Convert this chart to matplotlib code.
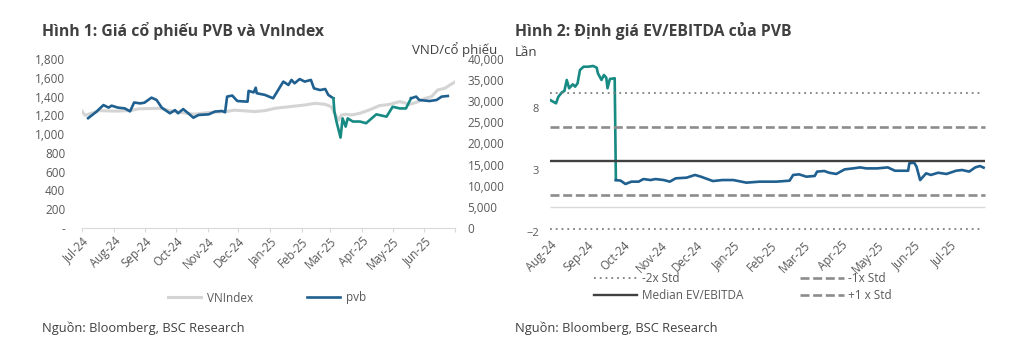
import numpy as np
import pandas as pd
import matplotlib
matplotlib.use("Agg")
import matplotlib.pyplot as plt
import matplotlib.dates as mdates
from matplotlib.ticker import FuncFormatter

plt.rcParams['font.family'] = ['Open Sans', 'DejaVu Sans']

# ---- Hinh 1: gia co phieu PVB va VnIndex ----
vni_dates = ["2024-07-01", "2024-07-04", "2024-07-18", "2024-08-02", "2024-08-17", "2024-08-26",
             "2024-09-05", "2024-09-15", "2024-09-25", "2024-10-09", "2024-10-19", "2024-10-29",
             "2024-11-08", "2024-11-18", "2024-11-27", "2024-12-07", "2024-12-17", "2024-12-27",
             "2025-01-06", "2025-01-20", "2025-02-04", "2025-02-14", "2025-02-24", "2025-03-02",
             "2025-03-06", "2025-03-09", "2025-03-12", "2025-03-16", "2025-03-22", "2025-03-30",
             "2025-04-08", "2025-04-18", "2025-04-28", "2025-05-08", "2025-05-18", "2025-05-26",
             "2025-06-02", "2025-06-08", "2025-06-14", "2025-06-21", "2025-06-26", "2025-07-01"]
vni_values = [1245, 1200, 1250, 1245, 1250, 1270,
              1272, 1275, 1250, 1225, 1212, 1225,
              1235, 1238, 1255, 1248, 1240, 1250,
              1275, 1292, 1310, 1328, 1317, 1292,
              1204, 1150, 1204, 1211, 1204, 1222,
              1257, 1303, 1317, 1346, 1317, 1346,
              1381, 1399, 1470, 1488, 1523, 1555]

pvb_dates = ["2024-07-07", "2024-07-15", "2024-07-22", "2024-07-27", "2024-07-30",
             "2024-08-05", "2024-08-12", "2024-08-17", "2024-08-21", "2024-08-27", "2024-08-31",
             "2024-09-07", "2024-09-12", "2024-09-17", "2024-09-25", "2024-09-30",
             "2024-10-03", "2024-10-08", "2024-10-13", "2024-10-18", "2024-10-23",
             "2024-11-02", "2024-11-08", "2024-11-15", "2024-11-18", "2024-11-20", "2024-11-25", "2024-11-30",
             "2024-12-10", "2024-12-11", "2024-12-16", "2024-12-18", "2024-12-19", "2024-12-27",
             "2025-01-04", "2025-01-14", "2025-01-19", "2025-01-22", "2025-01-25", "2025-01-30",
             "2025-02-04", "2025-02-10", "2025-02-13", "2025-02-19", "2025-02-24", "2025-02-27",
             "2025-03-04", "2025-03-05", "2025-03-07", "2025-03-11", "2025-03-13", "2025-03-16",
             "2025-03-18", "2025-03-23", "2025-03-30",
             "2025-04-05", "2025-04-15", "2025-04-25",
             "2025-05-01", "2025-05-08", "2025-05-14", "2025-05-19", "2025-05-24", "2025-05-27",
             "2025-06-06", "2025-06-13", "2025-06-18", "2025-06-24"]
pvb_values = [26000, 27500, 29100, 28500, 28950,
              28500, 28300, 27600, 29700, 29500, 29650,
              30850, 30300, 28500, 27150, 27900,
              27150, 28150, 27150, 26100, 26750,
              26900, 27550, 27700, 27400, 31100, 31350, 30050,
              29900, 32450, 32100, 33200, 31900, 31500,
              30700, 34650, 33850, 35050, 34250, 35250,
              34650, 35050, 33050, 32650, 32900, 31500,
              30700, 27550, 25200, 21400, 25950, 24000,
              25950, 25200, 25200,
              24800, 26900, 26350,
              28700, 28300, 28300, 30700, 31100, 30300,
              30050, 30300, 31100, 31250]
pvb_teal_from, pvb_teal_to = "2025-03-04", "2025-05-19"

# ---- Hinh 2: EV/EBITDA ----
ev_dates = ["2024-08-01", "2024-08-06", "2024-08-08", "2024-08-11", "2024-08-13", "2024-08-15",
            "2024-08-17", "2024-08-20", "2024-08-22", "2024-08-24", "2024-08-26", "2024-08-29",
            "2024-09-02", "2024-09-06", "2024-09-09", "2024-09-10", "2024-09-13", "2024-09-15",
            "2024-09-17", "2024-09-18", "2024-09-20", "2024-09-24", "2024-09-25", "2024-09-29",
            "2024-10-03", "2024-10-08", "2024-10-14", "2024-10-18", "2024-10-24", "2024-10-28",
            "2024-11-04", "2024-11-09", "2024-11-14", "2024-11-23", "2024-11-30",
            "2024-12-05", "2024-12-15", "2024-12-23",
            "2025-01-01", "2025-01-12", "2025-01-23",
            "2025-02-06", "2025-02-17", "2025-02-20", "2025-02-25",
            "2025-03-03", "2025-03-10", "2025-03-12", "2025-03-18", "2025-03-22", "2025-03-28",
            "2025-04-04", "2025-04-11", "2025-04-17", "2025-04-22",
            "2025-05-01", "2025-05-10", "2025-05-16", "2025-05-27", "2025-05-28",
            "2025-06-01", "2025-06-03", "2025-06-06", "2025-06-11", "2025-06-15", "2025-06-21", "2025-06-28",
            "2025-07-06", "2025-07-11", "2025-07-17", "2025-07-22", "2025-07-26", "2025-07-29"]
ev_values = [8.65, 8.38, 8.91, 9.27, 9.37, 10.26, 9.59, 9.91, 9.72, 9.99, 11.06, 11.33,
             11.33, 11.39, 11.25, 10.80, 10.26, 10.66, 10.44, 9.59, 10.34, 10.40, 2.19, 2.14,
             1.87, 2.06, 2.06, 2.27, 2.19, 2.27,
             2.19, 2.06, 2.33, 2.38, 2.60,
             2.46, 2.11, 2.19,
             2.19, 1.98, 2.06,
             2.06, 2.14, 2.60, 2.65,
             2.46, 2.52, 2.87, 2.92, 2.78, 2.68,
             3.05, 3.13, 3.21, 3.13,
             3.13, 3.21, 2.94, 2.94, 3.54,
             3.59, 3.27, 2.19, 2.73, 2.60, 2.78, 2.68,
             2.94, 3.00, 2.87, 3.21, 3.32, 3.19]
ev_teal_to = "2024-09-25"
ev_median = 3.73
ev_std = 2.75

BLUE = '#1f6090'
TEAL = '#178a84'
GRAY_TXT = '#595959'
DARK = '#404040'

vni = pd.Series(vni_values, index=pd.to_datetime(vni_dates))
pvb = pd.Series(pvb_values, index=pd.to_datetime(pvb_dates))
ev = pd.Series(ev_values, index=pd.to_datetime(ev_dates))

fig = plt.figure(figsize=(10.21, 3.54), dpi=100)

# ------------- left chart -------------
ax1 = fig.add_axes([82 / 1021, 1 - 228 / 354, 373 / 1021, 169 / 354])
ax1.plot(vni.index, vni.values, color='#d4d4d4', lw=2.2, solid_joinstyle='round')
ax1.set_ylim(0, 1800)
ax1.set_yticks(np.arange(0, 1801, 200))
ax1.yaxis.set_major_formatter(FuncFormatter(lambda v, p: '-' if v == 0 else f'{int(v):,}'))
ax1.set_xlim(pd.Timestamp("2024-07-01"), pd.Timestamp("2025-07-01"))
ax1.xaxis.set_major_locator(mdates.MonthLocator())
ax1.xaxis.set_major_formatter(mdates.DateFormatter('%b-%y'))
for s in ['top', 'right', 'left']:
    ax1.spines[s].set_visible(False)
ax1.spines['bottom'].set_color('#d9d9d9')
ax1.tick_params(axis='y', length=0, pad=12, labelsize=8.5, labelcolor=GRAY_TXT)
ax1.tick_params(axis='x', length=3, color='#d9d9d9', pad=2, labelsize=8.3, labelcolor=GRAY_TXT)
for lab in ax1.get_xticklabels():
    lab.set_rotation(45)
    lab.set_ha('right')
    lab.set_rotation_mode('anchor')
labels1 = ax1.get_xticklabels()
labels1[-1].set_visible(False)

ax1r = ax1.twinx()
blue_part1 = pvb[:pvb_teal_from]
teal_part = pvb[pvb_teal_from:pvb_teal_to]
blue_part2 = pvb[pvb_teal_to:]
ax1r.plot(blue_part1.index, blue_part1.values, color=BLUE, lw=1.9)
ax1r.plot(teal_part.index, teal_part.values, color=TEAL, lw=1.9)
ax1r.plot(blue_part2.index, blue_part2.values, color=BLUE, lw=1.9)
ax1r.set_ylim(0, 40000)
ax1r.set_yticks(np.arange(0, 40001, 5000))
ax1r.yaxis.set_major_formatter(FuncFormatter(lambda v, p: f'{int(v):,}'))
for s in ['top', 'right', 'left', 'bottom']:
    ax1r.spines[s].set_visible(False)
ax1r.tick_params(axis='y', length=0, pad=9, labelsize=8.5, labelcolor=GRAY_TXT)

fig.text(42 / 1021, 1 - 31 / 354, 'Hình 1: Giá cổ phiếu PVB và VnIndex', fontsize=11.3,
         fontweight='bold', color=DARK, va='center')
fig.text(497 / 1021, 1 - 50 / 354, 'VND/cổ phiếu', fontsize=9.5, color=DARK, ha='right', va='center')

h1, = ax1.plot([], [], color='#d4d4d4', lw=2.2, label='VNIndex')
h2, = ax1.plot([], [], color=BLUE, lw=1.9, label='pvb')
fig.legend(handles=[h1, h2], loc='center', bbox_to_anchor=(267 / 1021, 1 - 298 / 354), ncol=2,
           frameon=False, fontsize=8.5, handlelength=2.8, handletextpad=0.5, columnspacing=4.5,
           labelcolor=GRAY_TXT)
fig.text(42 / 1021, 1 - 328 / 354, 'Nguồn: Bloomberg, BSC Research', fontsize=9.3, color=DARK, va='center')

# ------------- right chart -------------
ax2 = fig.add_axes([550 / 1021, 1 - 232 / 354, 436 / 1021, 186 / 354])
ev_a = ev[:ev_teal_to]
ev_b = ev[ev_teal_to:]
ax2.plot(ev_a.index, ev_a.values, color=TEAL, lw=1.9)
ax2.plot(ev_b.index, ev_b.values, color=BLUE, lw=1.9)

x0, x1 = pd.Timestamp("2024-08-01"), pd.Timestamp("2025-07-30")
dotted = (0, (1, 2.2))
dashed = (0, (3.4, 1.4))
ax2.hlines(ev_median + 2 * ev_std, x0, x1 - pd.Timedelta(days=4), color='#7f7f7f', lw=1.3, linestyle=dotted)
ax2.hlines(ev_median + ev_std, x0, x1, color='#8c8c8c', lw=1.9, linestyle=dashed)
ax2.hlines(ev_median, x0, x1, color=DARK, lw=1.7)
ax2.hlines(ev_median - ev_std, x0, x1, color='#8c8c8c', lw=1.9, linestyle=dashed)
ax2.hlines(ev_median - 2 * ev_std, x0, x1 - pd.Timedelta(days=4), color='#7f7f7f', lw=1.3, linestyle=dotted)
ax2.hlines(0, x0, x1, color='#d9d9d9', lw=1)

ax2.set_ylim(-2, 13)
ax2.set_yticks([-2, 3, 8])
ax2.set_xlim(pd.Timestamp("2024-08-01"), pd.Timestamp("2025-07-31"))
ax2.xaxis.set_major_locator(mdates.MonthLocator())
ax2.xaxis.set_major_formatter(mdates.DateFormatter('%b-%y'))
for s in ['top', 'right', 'left', 'bottom']:
    ax2.spines[s].set_visible(False)
ax2.tick_params(axis='y', length=0, pad=8, labelsize=8, labelcolor=GRAY_TXT)
ax2.tick_params(axis='x', length=0, pad=5, labelsize=8.3, labelcolor=GRAY_TXT)
for lab in ax2.get_xticklabels():
    lab.set_rotation(45)
    lab.set_ha('right')
    lab.set_rotation_mode('anchor')

fig.text(515 / 1021, 1 - 31 / 354, 'Hình 2: Định giá EV/EBITDA của PVB', fontsize=11.3,
         fontweight='bold', color=DARK, va='center')
fig.text(515 / 1021, 1 - 52 / 354, 'Lần', fontsize=9.5, color=DARK, va='center')

g1, = ax2.plot([], [], color='#7f7f7f', lw=1.3, linestyle=dotted, label='-2x Std')
g2, = ax2.plot([], [], color=DARK, lw=1.7, label='Median EV/EBITDA')
g3, = ax2.plot([], [], color='#8c8c8c', lw=1.9, linestyle=dashed, label='-1x Std')
g4, = ax2.plot([], [], color='#8c8c8c', lw=1.9, linestyle=dashed, label='+1 x Std')
fig.legend(handles=[g1, g2, g3, g4], loc='center left', bbox_to_anchor=(583 / 1021, 1 - 287 / 354),
           ncol=2, frameon=False, fontsize=8.5, handlelength=3.7, handletextpad=0.4,
           columnspacing=4.8, labelcolor=GRAY_TXT, labelspacing=0.3)
fig.text(515 / 1021, 1 - 328 / 354, 'Nguồn: Bloomberg, BSC Research', fontsize=9.3, color=DARK, va='center')

fig.savefig('out.png', dpi=100, facecolor='white')
